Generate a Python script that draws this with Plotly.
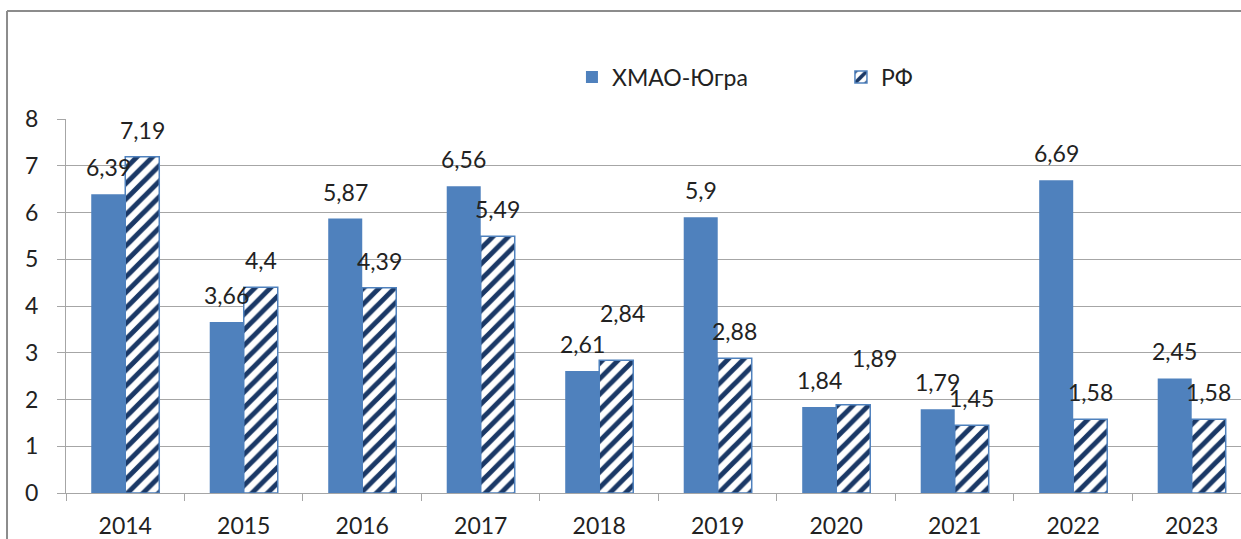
import plotly.graph_objects as go

# Данные
years = ["2014", "2015", "2016", "2017", "2018", "2019", "2020", "2021", "2022", "2023"]
hmao = [6.39, 3.66, 5.87, 6.56, 2.61, 5.9, 1.84, 1.79, 6.69, 2.45]
rf = [7.19, 4.4, 4.39, 5.49, 2.84, 2.88, 1.89, 1.45, 1.58, 1.58]

# сдвиг подписей РФ (в пикселях), как они стоят на исходной диаграмме
rf_lbl_dx = [0, 0, 0, 0, 6, 0, 21, 0, 0, 0]
rf_lbl_dy = [0, 0, 0, 0, 20, 0, 20, 0, 0, 0]

FONT = "Lato, 'Liberation Sans', sans-serif"
BLUE = "#4f81bd"
DARK = "#1a3866"

def fmt(v):
    return f"{v:g}".replace(".", ",")

fig = go.Figure()
fig.add_trace(go.Bar(
    x=years, y=hmao, name="ХМАО-Югра",
    marker=dict(color=BLUE, line=dict(width=0)),
))
fig.add_trace(go.Bar(
    x=years, y=rf, name="РФ",
    marker=dict(color="white", line=dict(color=BLUE, width=1.5),
                pattern=dict(shape="/", fgcolor=DARK, bgcolor="white", fgopacity=1,
                             size=11, solidity=0.45)),
))

# подписи значений над столбцами
for i, v in enumerate(hmao):
    fig.add_annotation(x=i, y=v, xref="x", yref="y", text=fmt(v), showarrow=False,
                       xshift=-17, yshift=11, yanchor="bottom",
                       font=dict(family=FONT, size=23, color="#222"))
for i, v in enumerate(rf):
    fig.add_annotation(x=i, y=v, xref="x", yref="y", text=fmt(v), showarrow=False,
                       xshift=17 + rf_lbl_dx[i], yshift=11 + rf_lbl_dy[i], yanchor="bottom",
                       font=dict(family=FONT, size=23, color="#222"))

# рамка диаграммы (левая и верхняя стороны, остальное за краем)
fig.add_shape(type="line", xref="paper", yref="paper",
              x0=-0.0502, x1=1.02, y0=1.2888, y1=1.2888,
              line=dict(color="#8c8c8c", width=2), layer="below")
fig.add_shape(type="line", xref="paper", yref="paper",
              x0=-0.0502, x1=-0.0502, y0=-0.2, y1=1.2888,
              line=dict(color="#8c8c8c", width=2), layer="below")

fig.update_layout(
    width=1241, height=539,
    margin=dict(l=66, r=0, t=119, b=46),
    barmode="group", bargap=0.426, bargroupgap=0,
    plot_bgcolor="white", paper_bgcolor="white",
    font=dict(family=FONT, size=23, color="#222"),
    showlegend=True,
    legend=dict(orientation="h", x=0.4306, y=1.112, xanchor="left", yanchor="middle",
                font=dict(family=FONT, size=23, color="#222"),
                entrywidth=224, entrywidthmode="pixels", bgcolor="rgba(0,0,0,0)"),
    xaxis=dict(type="category", range=[-0.5, 9.416], showline=True, linecolor="#a6a6a6",
               linewidth=1, ticks="outside", tickson="boundaries", ticklen=7,
               tickcolor="#a6a6a6", ticklabelstandoff=12, showgrid=False, automargin=False),
    yaxis=dict(range=[0, 8], dtick=1, showline=True, linecolor="#a6a6a6", linewidth=1,
               gridcolor="#a6a6a6", gridwidth=1, ticks="outside", ticklen=8,
               tickcolor="#a6a6a6", ticklabelstandoff=14, zeroline=False, automargin=False),
)

# страница без полей, чтобы диаграмма занимала всё окно
fig.write_html("out.html", config={"displayModeBar": False},
               post_script="document.body.style.margin='0';"
                           "document.documentElement.style.overflow='hidden';")
